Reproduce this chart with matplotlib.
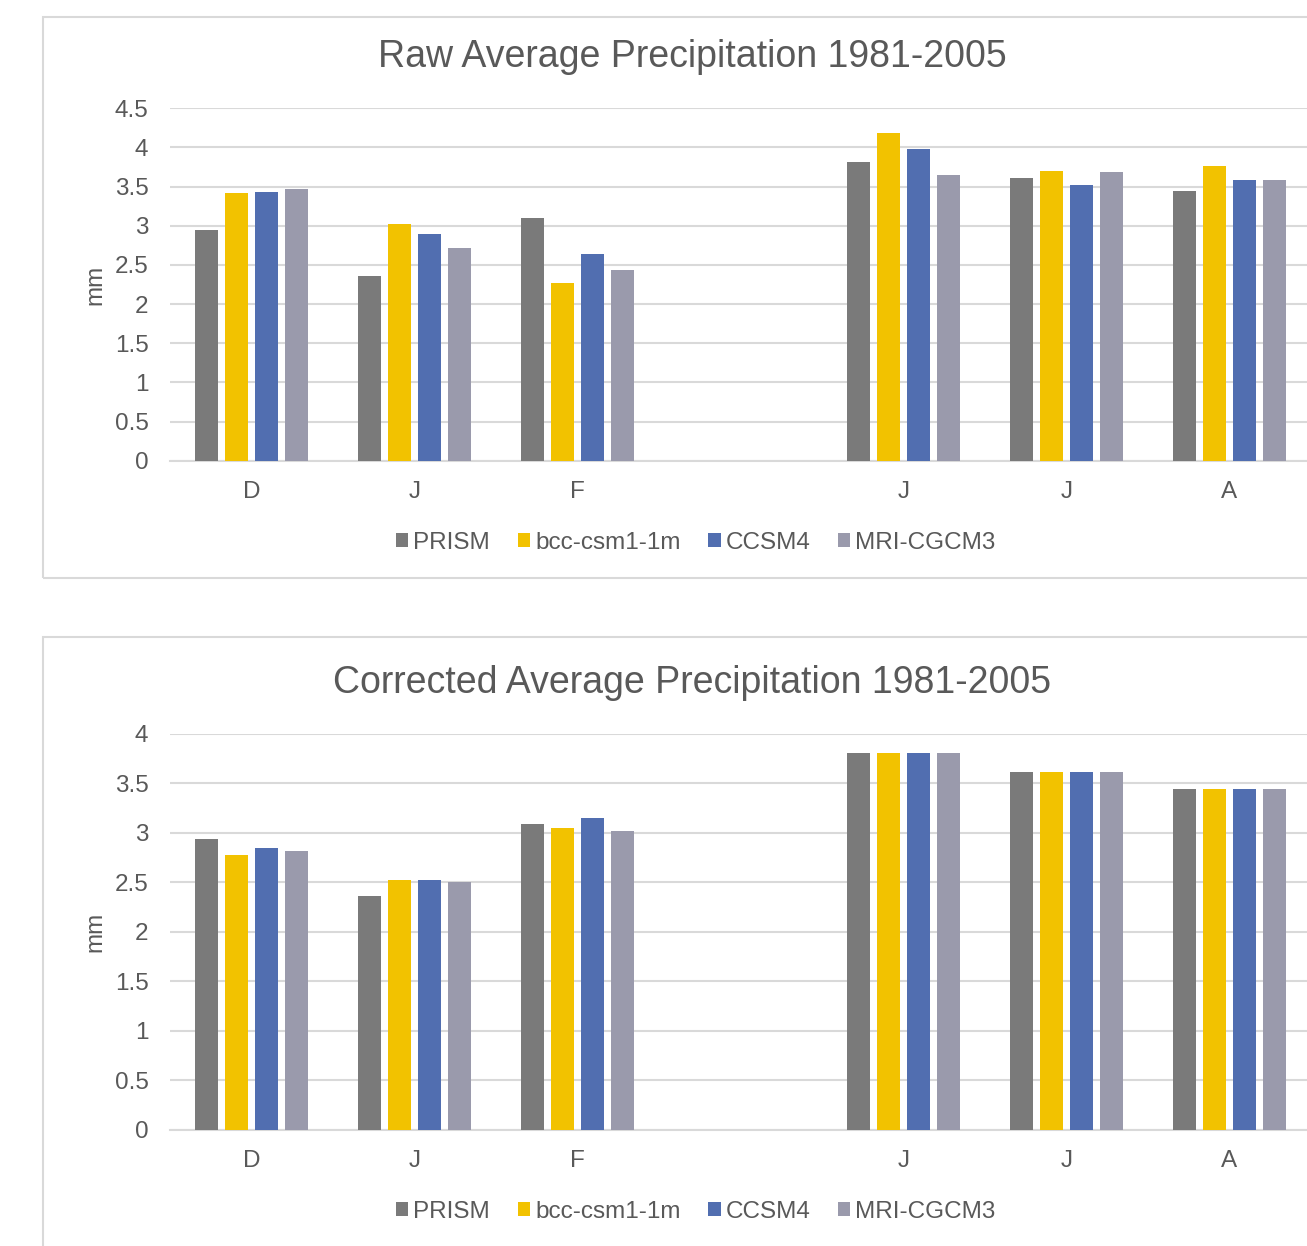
import numpy as np
import matplotlib
matplotlib.use("Agg")
import matplotlib.pyplot as plt
from matplotlib.patches import Rectangle

plt.rcParams['font.family'] = ['Liberation Sans', 'DejaVu Sans']

# months (blank slot between winter and summer)
months = ["D", "J", "F", "", "J", "J", "A"]
series = ["PRISM", "bcc-csm1-1m", "CCSM4", "MRI-CGCM3"]
colors = ["#7a7a7a", "#f2c200", "#516eb0", "#9a9aac"]

# raw averages (mm), nan = empty slot
raw_prism = [2.94, 2.36, 3.10, np.nan, 3.81, 3.61, 3.44]
raw_bcc = [3.42, 3.02, 2.27, np.nan, 4.18, 3.70, 3.76]
raw_ccsm4 = [3.43, 2.90, 2.64, np.nan, 3.98, 3.52, 3.59]
raw_mri = [3.47, 2.72, 2.44, np.nan, 3.65, 3.69, 3.59]

# corrected averages (mm)
cor_prism = [2.94, 2.36, 3.09, np.nan, 3.81, 3.61, 3.44]
cor_bcc = [2.78, 2.52, 3.05, np.nan, 3.81, 3.61, 3.44]
cor_ccsm4 = [2.85, 2.52, 3.15, np.nan, 3.81, 3.61, 3.44]
cor_mri = [2.82, 2.50, 3.02, np.nan, 3.81, 3.61, 3.44]

W, H = 1307, 1246
fig = plt.figure(figsize=(W / 100, H / 100), dpi=100)

txt = "#595959"
grid = "#d9d9d9"
fs = 17.5


def px_rect(x0, y0, x1, y1):
    # pixel box (top-left origin) -> figure fraction [l, b, w, h]
    return [x0 / W, 1 - y1 / H, (x1 - x0) / W, (y1 - y0) / H]


def draw_chart(box, ax_px, title, title_y, data, ymax, legend_y):
    fig.patches.append(Rectangle((box[0], box[1]), box[2], box[3],
                                 transform=fig.transFigure, fill=False,
                                 edgecolor=grid, linewidth=1.5))
    ax = fig.add_axes(px_rect(*ax_px))
    x = np.arange(len(months))
    slot = 0.184
    for i, (vals, name, c) in enumerate(zip(data, series, colors)):
        ax.bar(x + (i - 1.5) * slot, vals, width=0.141, color=c,
               label=name, zorder=3)
    ax.set_xlim(-0.5, 6.5)
    ax.set_ylim(0, ymax)
    ax.set_yticks(np.arange(0, ymax + 0.01, 0.5))
    ax.set_yticklabels([f"{v:g}" for v in np.arange(0, ymax + 0.01, 0.5)])
    ax.set_xticks(x)
    ax.set_xticklabels(months)
    ax.grid(axis="y", color=grid, linewidth=1.5, zorder=0)
    for s in ["top", "right", "left"]:
        ax.spines[s].set_visible(False)
    ax.spines["bottom"].set_color(grid)
    ax.spines["bottom"].set_linewidth(1.5)
    ax.tick_params(length=0, labelsize=fs, colors=txt)
    ax.tick_params(axis="x", pad=14.5)
    ax.tick_params(axis="y", pad=15.5)
    ax.set_ylabel("mm", fontsize=fs, color=txt, labelpad=6)
    fig.text(692 / W, 1 - title_y / H, title, ha="center", va="center",
             fontsize=27, color=txt)
    h, l = ax.get_legend_handles_labels()
    fig.legend(h, l, loc="center", bbox_to_anchor=(696 / W, 1 - legend_y / H),
               ncol=4, frameon=False, fontsize=fs, labelcolor=txt,
               handlelength=0.5, handleheight=0.5, handletextpad=0.2,
               columnspacing=1.15)


draw_chart(px_rect(43, 17, 1320, 578), (170, 108.3, 1311, 460.7),
           "Raw Average Precipitation 1981-2005", 57,
           [raw_prism, raw_bcc, raw_ccsm4, raw_mri], 4.5, 543)

draw_chart(px_rect(43, 637, 1320, 1260), (170, 733.7, 1311, 1130),
           "Corrected Average Precipitation 1981-2005", 683,
           [cor_prism, cor_bcc, cor_ccsm4, cor_mri], 4.0, 1212)

fig.savefig("out.png", dpi=100)
